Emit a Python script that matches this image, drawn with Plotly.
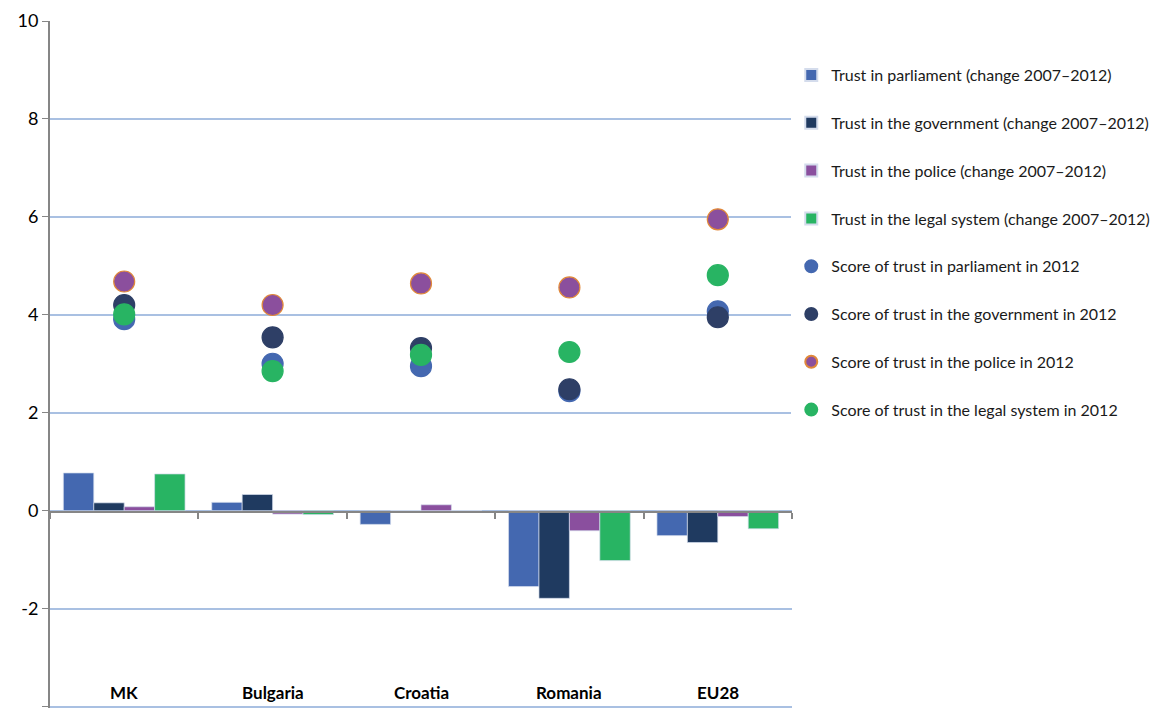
import plotly.graph_objects as go

categories = ["MK", "Bulgaria", "Croatia", "Romania", "EU28"]

change_parliament = [0.77, 0.17, -0.28, -1.55, -0.51]
change_government = [0.16, 0.33, 0.0, -1.79, -0.65]
change_police = [0.08, -0.07, 0.12, -0.41, -0.12]
change_legal = [0.75, -0.08, 0.0, -1.02, -0.37]

score_parliament = [3.91, 3.00, 2.95, 2.44, 4.07]
score_government = [4.20, 3.54, 3.32, 2.48, 3.95]
score_police = [4.68, 4.20, 4.64, 4.56, 5.95]
score_legal = [4.01, 2.85, 3.18, 3.24, 4.81]

bar_names = [
    "Trust in parliament (change 2007\u20132012)",
    "Trust in the government (change 2007\u20132012)",
    "Trust in the police (change 2007\u20132012)",
    "Trust in the legal system (change 2007\u20132012)",
]
score_names = [
    "Score of trust in parliament in 2012",
    "Score of trust in the government in 2012",
    "Score of trust in the police in 2012",
    "Score of trust in the legal system in 2012",
]

y_ticks = [-4, -2, 0, 2, 4, 6, 8, 10]

bar_colors = ["#4468b0", "#1f3a60", "#8a4f9e", "#28b463"]
score_colors = ["#4468b0", "#2e3f66", "#8b4f9d", "#28b463"]
score_lines = ["#4468b0", "#2e3f66", "#e0883a", "#28b463"]

FONT = "Lato"

fig = go.Figure()
for i, (name, vals) in enumerate(zip(bar_names, [change_parliament, change_government, change_police, change_legal])):
    fig.add_trace(go.Bar(
        x=categories, y=vals, name=name,
        marker=dict(color=bar_colors[i], line=dict(color="#d4dcec", width=0.7)),
        legendgroup=f"g{i}",
    ))
for i, (name, vals) in enumerate(zip(score_names, [score_parliament, score_government, score_police, score_legal])):
    fig.add_trace(go.Scatter(
        x=categories, y=vals, name=name, mode="markers",
        marker=dict(color=score_colors[i], size=21, line=dict(color=score_lines[i], width=1.2)),
        legendgroup=f"s{i}",
    ))

for c in categories:
    fig.add_annotation(x=c, y=-4, yref="y", xref="x", text=f"<b>{c}</b>",
                       showarrow=False, yanchor="bottom", yshift=2,
                       font=dict(family=FONT, size=17, color="#000000"))

fig.update_layout(
    width=1158, height=711,
    margin=dict(l=50, r=363, t=21, b=3),
    paper_bgcolor="white", plot_bgcolor="white",
    barmode="group", bargap=0.18, bargroupgap=0,
    font=dict(family=FONT, size=16, color="#000000"),
    legend=dict(x=0.999, y=0.946, xanchor="left", yanchor="top",
                tracegroupgap=24, itemsizing="constant",
                font=dict(family=FONT, size=16, color="#1a1a1a")),
    showlegend=True,
)
fig.update_xaxes(
    type="category", anchor="free", position=4 / 14,
    showline=True, linecolor="#868686", linewidth=2,
    ticks="outside", tickson="boundaries", ticklen=6, tickcolor="#868686", tickwidth=1.5,
    showticklabels=False, showgrid=False, zeroline=False,
    range=[-0.5, 4.5],
)
fig.update_yaxes(
    range=[-4.03, 10], tickvals=y_ticks, ticktext=[str(v) for v in y_ticks],
    showline=True, linecolor="#868686", linewidth=2,
    ticks="outside", ticklen=6, tickcolor="#868686",
    showgrid=True, gridcolor="#a9c0e2", gridwidth=1.5,
    zeroline=False,
    tickfont=dict(family=FONT, size=18, color="#000000"),
)

fig.write_html("out.html")
